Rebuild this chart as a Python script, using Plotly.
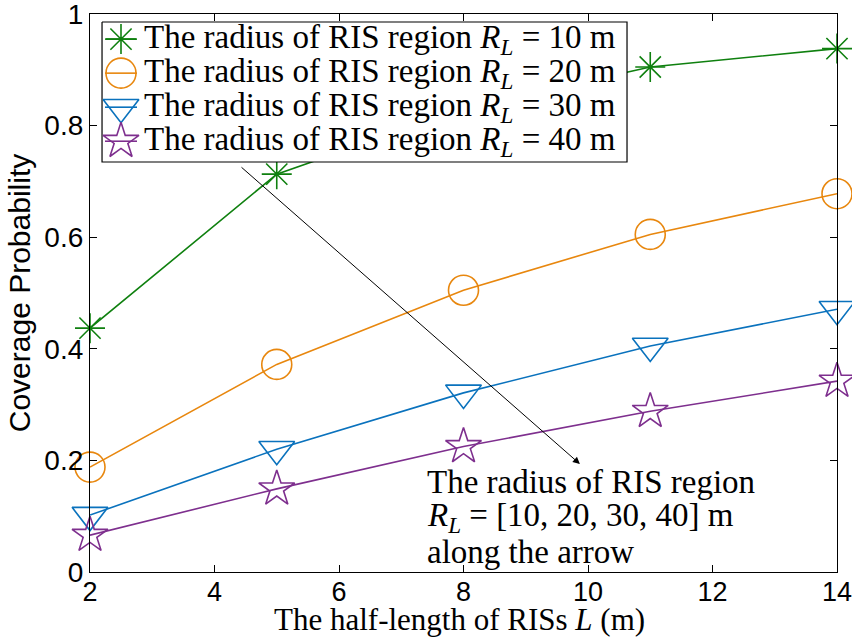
import plotly.graph_objects as go

L_values = [2, 5, 8, 11, 14]
cov_R10 = [0.437, 0.713, 0.83, 0.905, 0.938]
cov_R20 = [0.188, 0.372, 0.505, 0.605, 0.678]
cov_R30 = [0.102, 0.220, 0.321, 0.405, 0.471]
cov_R40 = [0.066, 0.149, 0.225, 0.288, 0.342]
series_names = [
    "The radius of RIS region <i>R</i><sub><i>L</i></sub> = 10 m",
    "The radius of RIS region <i>R</i><sub><i>L</i></sub> = 20 m",
    "The radius of RIS region <i>R</i><sub><i>L</i></sub> = 30 m",
    "The radius of RIS region <i>R</i><sub><i>L</i></sub> = 40 m",
]
colors = ["#0f800f", "#e8870e", "#0a72bd", "#7e2f8e"]
symbols = ["asterisk-open", "circle-open", "triangle-down-open", "star-open"]
sizes = [25, 30, 31, 27]
x_ticks = [2, 4, 6, 8, 10, 12, 14]
y_ticks = [0, 0.2, 0.4, 0.6, 0.8, 1]
y_ticktext = ["0", "0.2", "0.4", "0.6", "0.8", "1"]

serif = "Liberation Serif, DejaVu Serif, serif"
sans = "Liberation Sans, Arial, sans-serif"

fig = go.Figure()
for ys, name, c, s, sz in zip([cov_R10, cov_R20, cov_R30, cov_R40], series_names, colors, symbols, sizes):
    fig.add_trace(go.Scatter(
        x=L_values, y=ys, name=name, mode="lines+markers", showlegend=False,
        line=dict(color=c, width=1.6),
        marker=dict(symbol=s, size=sz, color=c, line=dict(color=c, width=1.6)),
        cliponaxis=False,
    ))

# ---- custom legend drawn on an overlay axis spanning the plot area (0..1) ----
box_x = [0.0161, 0.7189, 0.7189, 0.0161, 0.0161]
box_y = [0.9857, 0.9857, 0.7348, 0.7348, 0.9857]
fig.add_trace(go.Scatter(
    x=box_x, y=box_y, xaxis="x2", yaxis="y2", mode="lines", fill="toself",
    fillcolor="white", line=dict(color="black", width=1.2), showlegend=False,
    hoverinfo="skip",
))
row_y = [0.955, 0.894, 0.833, 0.772]
for ry, c, s, sz, name in zip(row_y, colors, symbols, sizes, series_names):
    fig.add_trace(go.Scatter(
        x=[0.0201, 0.0629], y=[ry, ry], xaxis="x2", yaxis="y2", mode="lines",
        line=dict(color=c, width=1.6), showlegend=False, hoverinfo="skip",
    ))
    fig.add_trace(go.Scatter(
        x=[0.0415], y=[ry], xaxis="x2", yaxis="y2", mode="markers",
        marker=dict(symbol=s, size=sz, color=c, line=dict(color=c, width=1.6)),
        showlegend=False, hoverinfo="skip", cliponaxis=False,
    ))
    fig.add_annotation(
        x=0.0695, y=ry, xref="x domain", yref="y domain", xanchor="left", yanchor="middle",
        showarrow=False, text=name, font=dict(family=serif, size=33, color="black"),
    )

# ---- arrow and its explanation ----
fig.add_annotation(
    x=9.87, y=0.1935, ax=4.41, ay=0.7276, xref="x", yref="y", axref="x", ayref="y",
    showarrow=True, arrowhead=2, arrowsize=1.4, arrowwidth=1, arrowcolor="black", text="",
)
note_lines = [
    "The radius of RIS region",
    "<i>R</i><sub><i>L</i></sub> = [10, 20, 30, 40] m",
    "along the arrow",
]
note_y = [0.161, 0.097, 0.036]
for t, ny in zip(note_lines, note_y):
    fig.add_annotation(
        x=0.4485, y=ny, xref="x domain", yref="y domain", xanchor="left", yanchor="middle",
        showarrow=False, text=t, align="left", font=dict(family=serif, size=33, color="black"),
    )

# ---- x-axis title placed as an annotation for exact positioning ----
fig.add_annotation(
    x=0.4953, y=-0.0855, xref="x domain", yref="y domain", xanchor="center", yanchor="middle",
    showarrow=False, text="The half-length of RISs <i>L</i> (m)",
    font=dict(family=serif, size=31, color="black"),
)

fig.update_layout(
    width=852, height=640,
    margin=dict(l=90, r=15, t=14, b=68),
    plot_bgcolor="white", paper_bgcolor="white",
    showlegend=False,
    xaxis=dict(
        range=[2, 14], tickvals=x_ticks, automargin=False, ticklabeloverflow="allow",
        showline=True, linecolor="black", linewidth=1.2, mirror="ticks",
        ticks="inside", ticklen=7, tickcolor="black", showgrid=False, zeroline=False,
        tickfont=dict(family=sans, size=27, color="black"), ticklabelstandoff=-5,
    ),
    yaxis=dict(
        range=[0, 1], tickvals=y_ticks, ticktext=y_ticktext, automargin=False, ticklabeloverflow="allow",
        showline=True, linecolor="black", linewidth=1.2, mirror="ticks",
        ticks="inside", ticklen=7, tickcolor="black", showgrid=False, zeroline=False,
        tickfont=dict(family=sans, size=28, color="black"),
        title=dict(text="Coverage Probability", font=dict(family=sans, size=30, color="black"), standoff=4),
    ),
    xaxis2=dict(overlaying="x", range=[0, 1], visible=False, fixedrange=True),
    yaxis2=dict(overlaying="y", range=[0, 1], visible=False, fixedrange=True),
)

fig.write_html("out.html", config={"displayModeBar": False},
               post_script="document.body.style.margin='0';")
